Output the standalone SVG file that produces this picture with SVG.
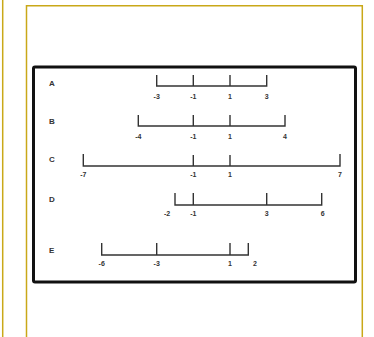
<svg xmlns="http://www.w3.org/2000/svg" width="374" height="337" viewBox="0 0 374 337">
<style>
.frame{fill:none;stroke:#c9a818;stroke-width:1.5}
.box{fill:#fff;stroke:#111;stroke-width:3}
.nl{fill:none;stroke:#333;stroke-width:1.4}
.t{font-family:"Liberation Sans",Arial,sans-serif;font-size:7px;font-weight:bold;fill:#333;text-anchor:middle}
.lab{font-family:"Liberation Sans",Arial,sans-serif;font-size:8px;font-weight:bold;fill:#333}
</style>
<rect width="374" height="337" fill="#fff"/>
<line class="frame" x1="2.7" y1="0" x2="2.7" y2="337"/>
<path class="frame" d="M26.5,340 V5.7 H362.3 V340"/>
<rect class="box" x="33.5" y="67" width="322" height="215" rx="1.5"/>
<g id="A">
<text class="lab" x="49" y="86">A</text>
<path class="nl" d="M156.7,75 V86 H266.7 V75 M193.3,75 V86 M230,75 V86"/>
<text class="t" x="156.7" y="99">-3</text><text class="t" x="193.3" y="99">-1</text><text class="t" x="230" y="99">1</text><text class="t" x="266.7" y="99">3</text>
</g>
<g id="B">
<text class="lab" x="49" y="124">B</text>
<path class="nl" d="M138.3,115 V126 H285 V115 M193.3,115 V126 M230,115 V126"/>
<text class="t" x="138.3" y="139">-4</text><text class="t" x="193.3" y="139">-1</text><text class="t" x="230" y="139">1</text><text class="t" x="285" y="139">4</text>
</g>
<g id="C">
<text class="lab" x="49" y="162">C</text>
<path class="nl" d="M83.3,154 V166 H340 V154 M193.3,155 V166 M230,155 V166"/>
<text class="t" x="83.3" y="177">-7</text><text class="t" x="193.3" y="177">-1</text><text class="t" x="230" y="177">1</text><text class="t" x="340" y="177">7</text>
</g>
<g id="D">
<text class="lab" x="49" y="202">D</text>
<path class="nl" d="M175,193 V205 H321.7 V193 M193.3,193 V205 M266.7,193 V205"/>
<text class="t" x="167" y="216">-2</text><text class="t" x="193.3" y="216">-1</text><text class="t" x="266.7" y="216">3</text><text class="t" x="322.7" y="216">6</text>
</g>
<g id="E">
<text class="lab" x="49" y="253">E</text>
<path class="nl" d="M101.7,243 V255 H248.3 V243 M156.7,243 V255 M230,243 V255"/>
<text class="t" x="101.7" y="266">-6</text><text class="t" x="156.7" y="266">-3</text><text class="t" x="230" y="266">1</text><text class="t" x="255" y="266">2</text>
</g>
</svg>
